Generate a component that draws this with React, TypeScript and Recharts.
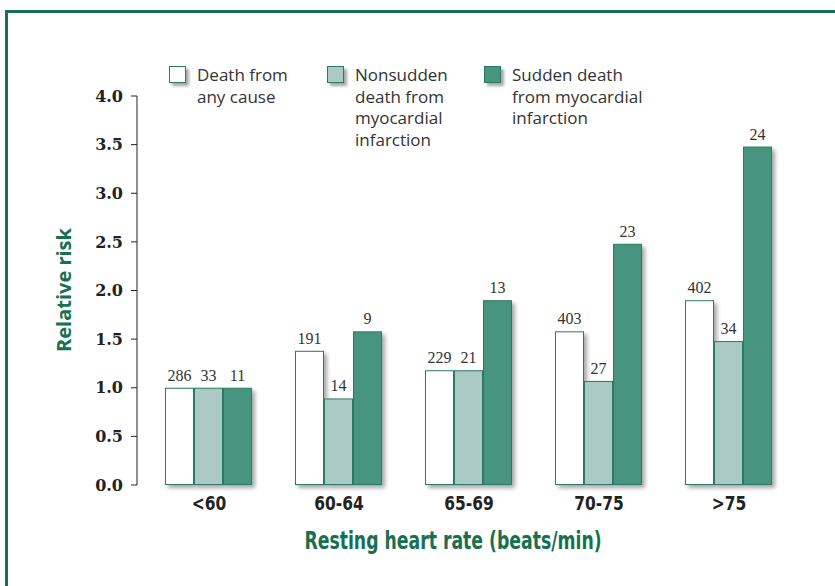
import { FC } from 'react';
import { BarChart, Bar, XAxis, YAxis, LabelList } from 'recharts';

const categories = ['<60', '60-64', '65-69', '70-75', '>75'];
const anyCause = [1.0, 1.38, 1.18, 1.58, 1.9];
const nonsudden = [1.0, 0.89, 1.18, 1.07, 1.48];
const sudden = [1.0, 1.58, 1.9, 2.48, 3.48];
const anyCauseN = [286, 191, 229, 403, 402];
const nonsuddenN = [33, 14, 21, 27, 34];
const suddenN = [11, 9, 13, 23, 24];
const yTicks = [0, 0.5, 1, 1.5, 2, 2.5, 3, 3.5, 4];

const legendLines = [
    ['Death from', 'any cause'],
    ['Nonsudden', 'death from', 'myocardial', 'infarction'],
    ['Sudden death', 'from myocardial', 'infarction'],
];

const data = categories.map((c, i) => ({
    cat: c,
    anyCause: anyCause[i],
    nonsudden: nonsudden[i],
    sudden: sudden[i],
    anyCauseN: anyCauseN[i],
    nonsuddenN: nonsuddenN[i],
    suddenN: suddenN[i],
}));

const GREEN = '#17704f';
const STROKE = '#2b7a63';
const FILLS = ['#ffffff', '#aacac3', '#47957f'];
const legendX = [169, 327, 484];

const ShadowBar = (props: any) => {
    const { x, y, width, height, fill } = props;
    if (!height || height <= 0) return null;
    return (
        <g>
            <rect x={x + 3} y={y + 3} width={width} height={height} fill="#000" opacity={0.35} filter="url(#barShadow)" />
            <rect x={x + 0.5} y={y + 0.5} width={width - 1} height={height - 1} fill={fill} stroke={STROKE} strokeWidth={1} />
        </g>
    );
};

const labelStyle = { fontFamily: '"Liberation Serif", serif', fontSize: 16, fill: '#333' };
const condensed = '"Liberation Sans Narrow", "DejaVu Sans Condensed", sans-serif';

// narrow bold tick, squeezed horizontally
const CatTick = (props: any) => {
    const { x, y, payload } = props;
    return (
        <text
            transform={`translate(${x},${y}) scale(0.86,1)`}
            textAnchor="middle"
            dy="0.71em"
            fontFamily={condensed}
            fontWeight="bold"
            fontSize={20}
            fill="#222"
        >
            {payload.value}
        </text>
    );
};

const App: FC = () => {
    return (
        <div style={{ position: 'absolute', left: 0, top: 0, width: 835, height: 586, overflow: 'hidden', background: '#fff' }}>
            <div
                style={{
                    position: 'absolute',
                    left: 5,
                    top: 10,
                    width: 830,
                    height: 576,
                    borderTop: `3px solid ${GREEN}`,
                    borderLeft: `3px solid ${GREEN}`,
                    boxSizing: 'border-box',
                }}
            />
            <div style={{ position: 'absolute', left: 0, top: 0 }}>
                <BarChart
                    width={835}
                    height={586}
                    data={data}
                    margin={{ top: 96, right: 41, bottom: 71, left: 77 }}
                    barCategoryGap={21}
                    barGap={0}
                >
                    <defs>
                        <filter id="barShadow" x="-30%" y="-30%" width="160%" height="160%">
                            <feGaussianBlur stdDeviation="2" />
                        </filter>
                    </defs>
                    <XAxis
                        dataKey="cat"
                        axisLine={false}
                        tickLine={false}
                        tickSize={0}
                        tickMargin={11}
                        height={30}
                        padding={{ left: 7, right: 0 }}
                        tick={<CatTick />}
                    />
                    <YAxis
                        domain={[0, 4]}
                        ticks={yTicks}
                        width={60}
                        tickSize={6}
                        tickMargin={8}
                        tickFormatter={(v: number) => v.toFixed(1)}
                        axisLine={{ stroke: '#222' }}
                        tickLine={{ stroke: '#222' }}
                        tick={{ fontFamily: '"DejaVu Serif", serif', fontWeight: 'bold', fontSize: 16, fill: '#222' }}
                    />
                    <Bar dataKey="anyCause" fill={FILLS[0]} shape={ShadowBar} isAnimationActive={false}>
                        <LabelList dataKey="anyCauseN" position="top" offset={7} style={labelStyle} />
                    </Bar>
                    <Bar dataKey="nonsudden" fill={FILLS[1]} shape={ShadowBar} isAnimationActive={false}>
                        <LabelList dataKey="nonsuddenN" position="top" offset={7} style={labelStyle} />
                    </Bar>
                    <Bar dataKey="sudden" fill={FILLS[2]} shape={ShadowBar} isAnimationActive={false}>
                        <LabelList dataKey="suddenN" position="top" offset={7} style={labelStyle} />
                    </Bar>
                </BarChart>
            </div>
            <svg width={835} height={586} style={{ position: 'absolute', left: 0, top: 0, pointerEvents: 'none' }}>
                <defs>
                    <filter id="legShadow" x="-40%" y="-40%" width="180%" height="180%">
                        <feGaussianBlur stdDeviation="1.5" />
                    </filter>
                </defs>
                {legendLines.map((lines, i) => (
                    <g key={i}>
                        <rect x={legendX[i] + 3} y={69} width={17} height={17} fill="#000" opacity={0.35} filter="url(#legShadow)" />
                        <rect x={legendX[i] + 0.5} y={66.5} width={16} height={16} fill={FILLS[i]} stroke={STROKE} strokeWidth={1} />
                        <text fontFamily='"Open Sans", sans-serif' fontSize={17} fill="#333">
                            {lines.map((l, j) => (
                                <tspan key={j} x={legendX[i] + 28} y={81 + j * 21.5}>
                                    {l}
                                </tspan>
                            ))}
                        </text>
                    </g>
                ))}
                <text
                    transform="translate(71,290) rotate(-90)"
                    textAnchor="middle"
                    fontFamily='"Open Sans", sans-serif'
                    fontWeight="bold"
                    fontSize={20}
                    fill={GREEN}
                >
                    Relative risk
                </text>
                <text
                    transform="translate(453,549) scale(0.8,1)"
                    textAnchor="middle"
                    fontFamily={condensed}
                    fontWeight="bold"
                    fontSize={24}
                    fill={GREEN}
                >
                    Resting heart rate (beats/min)
                </text>
            </svg>
        </div>
    );
};

export default App;
